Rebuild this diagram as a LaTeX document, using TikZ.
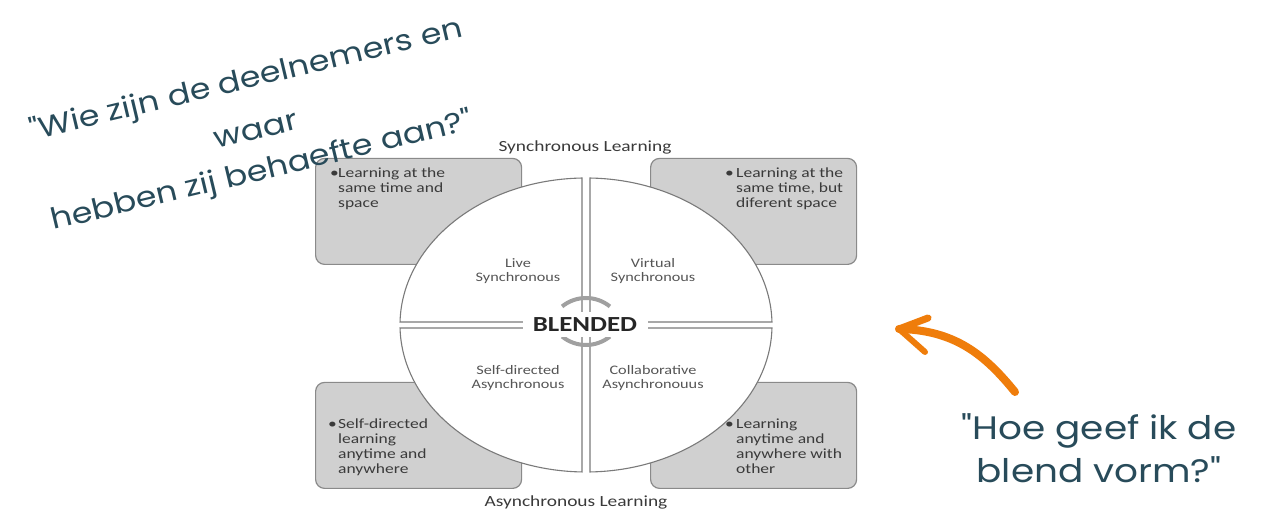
\documentclass[tikz,border=0pt]{standalone}
\usepackage{fontspec}
\setmainfont{Carlito}
\newfontfamily\diagfont{Carlito}[FakeStretch=1.25]
\newfontfamily\popfont{Poppins}[FakeStretch=1.15]
\definecolor{qtext}{HTML}{284B5A}
\definecolor{arroworange}{HTML}{EF7D0B}
\definecolor{boxfill}{HTML}{D0D0D0}
\definecolor{boxline}{HTML}{8A8A8A}
\definecolor{quadline}{HTML}{7A7A7A}
\definecolor{arcgray}{HTML}{A0A0A0}
\definecolor{boxtext}{HTML}{3A3A3A}
\definecolor{quadtext}{HTML}{555555}
\begin{document}
\begin{tikzpicture}[x=1pt,y=1pt,
  infobox/.style={draw=boxline, fill=boxfill, rounded corners=9pt, line width=1.2pt, minimum width=206pt, minimum height=106pt, inner sep=0pt, anchor=south west},
  quad/.style={draw=quadline, fill=white, line width=1.1pt},
  quadlabel/.style={font=\diagfont\fontsize{13}{14.5}\selectfont, text=quadtext, align=center, inner sep=0pt},
  boxtxt/.style={font=\diagfont\fontsize{14}{15}\selectfont, text=boxtext, inner sep=0pt, anchor=base west},
  heading/.style={font=\diagfont\fontsize{15.5}{18}\selectfont, text=boxtext, inner sep=0pt, anchor=base},
  question/.style={font=\popfont\fontsize{32.5}{36}\selectfont, text=qtext, inner sep=0pt, anchor=base},
  tiltquestion/.style={font=\popfont\fontsize{29}{34}\selectfont, text=qtext, inner sep=0pt, anchor=base, rotate=13.5},
  arrowstroke/.style={draw=arroworange, line width=8pt, line cap=round, line join=round},
  blendarc/.style={draw=arcgray, line width=4pt}
]
\useasboundingbox[fill=white] (0,0) rectangle (1268,510);

% grey boxes
\node[infobox] (tlbox) at (315,245) {};
\node[infobox] (trbox) at (650,245) {};
\node[infobox] (blbox) at (315,21) {};
\node[infobox] (brbox) at (650,21) {};

% ellipse quadrants
\path[quad] (582,188) -- (582,331.97) arc[start angle=91.23, end angle=178.83, x radius=186pt, y radius=147pt] -- cycle;
\path[quad] (590,188) -- (590,331.97) arc[start angle=88.77, end angle=1.17, x radius=186pt, y radius=147pt] -- cycle;
\path[quad] (582,182) -- (400.04,182) arc[start angle=181.17, end angle=268.77, x radius=186pt, y radius=147pt] -- cycle;
\path[quad] (590,182) -- (590,38.03) arc[start angle=271.23, end angle=358.83, x radius=186pt, y radius=147pt] -- cycle;

% arcs around BLENDED
\draw[blendarc] (586,174) ++(51:38) arc[start angle=51, end angle=129, radius=38pt];
\draw[blendarc] (586,203) ++(231:38) arc[start angle=231, end angle=309, radius=38pt];

\node[fill=white, minimum width=125pt, minimum height=25pt, inner sep=0pt,
      font=\diagfont\bfseries\fontsize{21.5}{23}\selectfont, text=black!85] (blended) at (585,185.5) {BLENDED};

% quadrant labels
\node[quadlabel] (live) at (518,239) {Live\\Synchronous};
\node[quadlabel] (virtual) at (653,239) {Virtual\\Synchronous};
\node[quadlabel] (selfdir) at (518,132) {Self-directed\\Asynchronous};
\node[quadlabel] (collab) at (653,132) {Collaborative\\Asynchronouus};

% box texts
\node[boxtxt] (tlbul) at (330,332) {\textbullet};
\node[boxtxt] (tltxt) at (338,332) {\begin{tabular}[t]{@{}l@{}}Learning at the\\same time and\\space\end{tabular}};
\node[boxtxt] (trbul) at (725,332) {\textbullet};
\node[boxtxt] (trtxt) at (736,332) {\begin{tabular}[t]{@{}l@{}}Learning at the\\same time, but\\diferent space\end{tabular}};
\node[boxtxt] (blbul) at (328,81) {\textbullet};
\node[boxtxt] (bltxt) at (338,81) {\begin{tabular}[t]{@{}l@{}}Self-directed\\learning\\anytime and\\anywhere\end{tabular}};
\node[boxtxt] (brbul) at (725,81) {\textbullet};
\node[boxtxt] (brtxt) at (736,81) {\begin{tabular}[t]{@{}l@{}}Learning\\anytime and\\anywhere with\\other\end{tabular}};

% headings
\node[heading] (synch) at (585,358) {Synchronous Learning};
\node[heading] (asynch) at (576,3) {Asynchronous Learning};

% tilted question
\node[tiltquestion] (qa) at (248,421.5) {"Wie zijn de deelnemers en};
\node[tiltquestion] (qb) at (258,371) {waar};
\node[tiltquestion] (qc) at (264,330.5) {hebben zij behaefte aan?"};

% bottom-right question
\node[question] (qd) at (1099,70) {"Hoe geef ik de};
\node[question] (qe) at (1099,27) {blend vorm?"};

% orange arrow
\coordinate (arrowtail) at (1015,118);
\coordinate (arrowtip) at (899,181);
\coordinate (barbup) at (928,192);
\coordinate (barbdown) at (925,158);
\draw[arrowstroke] (arrowtail) .. controls (985,155) and (955,180) .. (arrowtip);
\draw[arrowstroke, line width=7pt] (arrowtip) -- (barbup);
\draw[arrowstroke, line width=6pt] (arrowtip) -- (barbdown);
\end{tikzpicture}
\end{document}
